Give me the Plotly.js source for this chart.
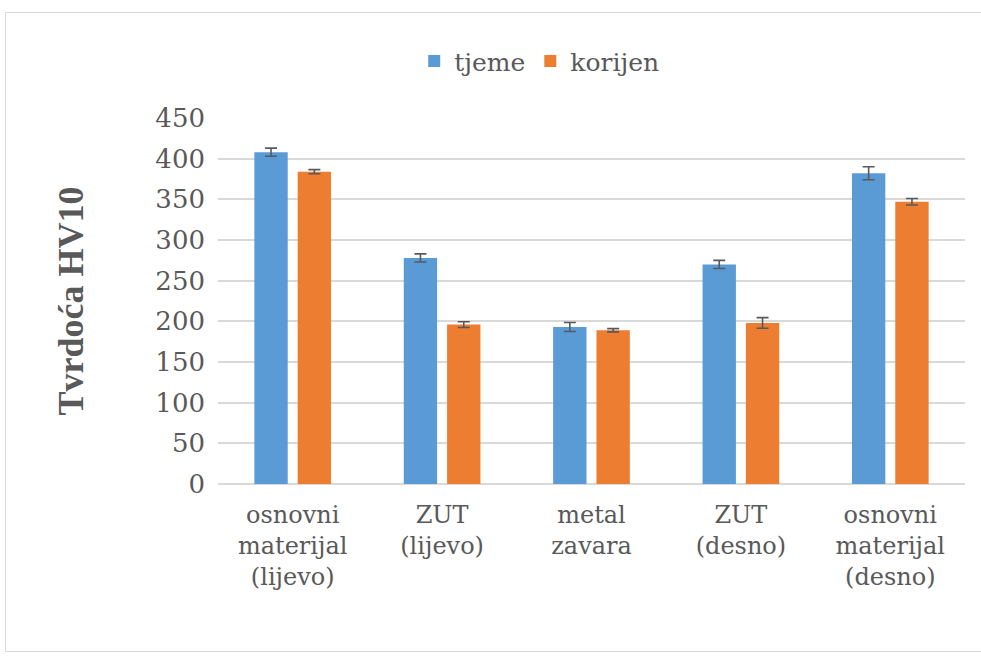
<!DOCTYPE html>
<html><head><meta charset="utf-8">
<script src="https://cdn.plot.ly/plotly-3.0.1.min.js"></script>
<style>
body{margin:0;background:#fff}#frame{position:absolute;left:5px;top:12px;width:990px;height:640px;border:1px solid #d9d9d9;box-sizing:border-box}#chart{position:absolute;left:0;top:0;width:981px;height:659px}</style>
</head><body><div id="frame"></div><div id="chart"></div>
<script>
const categories = ["osnovni<br>materijal<br>(lijevo)", "ZUT<br>(lijevo)", "metal<br>zavara", "ZUT<br>(desno)", "osnovni<br>materijal<br>(desno)"];
const tjeme = [408, 278, 193, 270, 382];
const tjemeErr = [5, 5, 5.5, 5, 8];
const korijen = [384, 196, 189, 198, 347];
const korijenErr = [2.5, 3.5, 2, 6.5, 4];

const SERIF = 'DejaVu Serif';
const errStyle = {type:'data', visible:true, color:'#595959', thickness:1.6, width:6};
const data = [
  {type:'bar', name:'tjeme', x:categories, y:tjeme, marker:{color:'#5b9bd5'},
   error_y:Object.assign({array:tjemeErr}, errStyle)},
  {type:'bar', name:'korijen', x:categories, y:korijen, marker:{color:'#ed7d31'},
   error_y:Object.assign({array:korijenErr}, errStyle)}
];
const layout = {
  width:981, height:659,
  paper_bgcolor:'rgba(0,0,0,0)', plot_bgcolor:'rgba(0,0,0,0)',
  margin:{l:218, r:16, t:118, b:175},
  font:{family:SERIF, size:24, color:'#595959'},
  barmode:'group', bargap:0.42, bargroupgap:0.23,
  showlegend:true,
  legend:{orientation:'h', x:0.43, xanchor:'center', y:1.155, yanchor:'middle',
    font:{family:SERIF, size:25, color:'#595959'}, itemwidth:30, traceorder:'normal'},
  xaxis:{type:'category', showgrid:false, showline:false, ticks:'', ticklabelstandoff:14,
    tickfont:{family:SERIF, size:24, color:'#595959'}},
  yaxis:{range:[0,450], dtick:50, showgrid:true, gridcolor:'#d9d9d9', gridwidth:1.5,
    zeroline:true, zerolinecolor:'#d9d9d9', zerolinewidth:1.5, showline:false, ticks:'',
    ticklabelstandoff:12,
    tickfont:{family:SERIF, size:26, color:'#595959'},
    title:{text:'Tvrdoća HV10', standoff:60, font:{size:36, color:'#595959', family:'Liberation Serif', weight:'bold'}}}
};
Plotly.newPlot('chart', data, layout, {displayModeBar:false});
</script></body></html>
